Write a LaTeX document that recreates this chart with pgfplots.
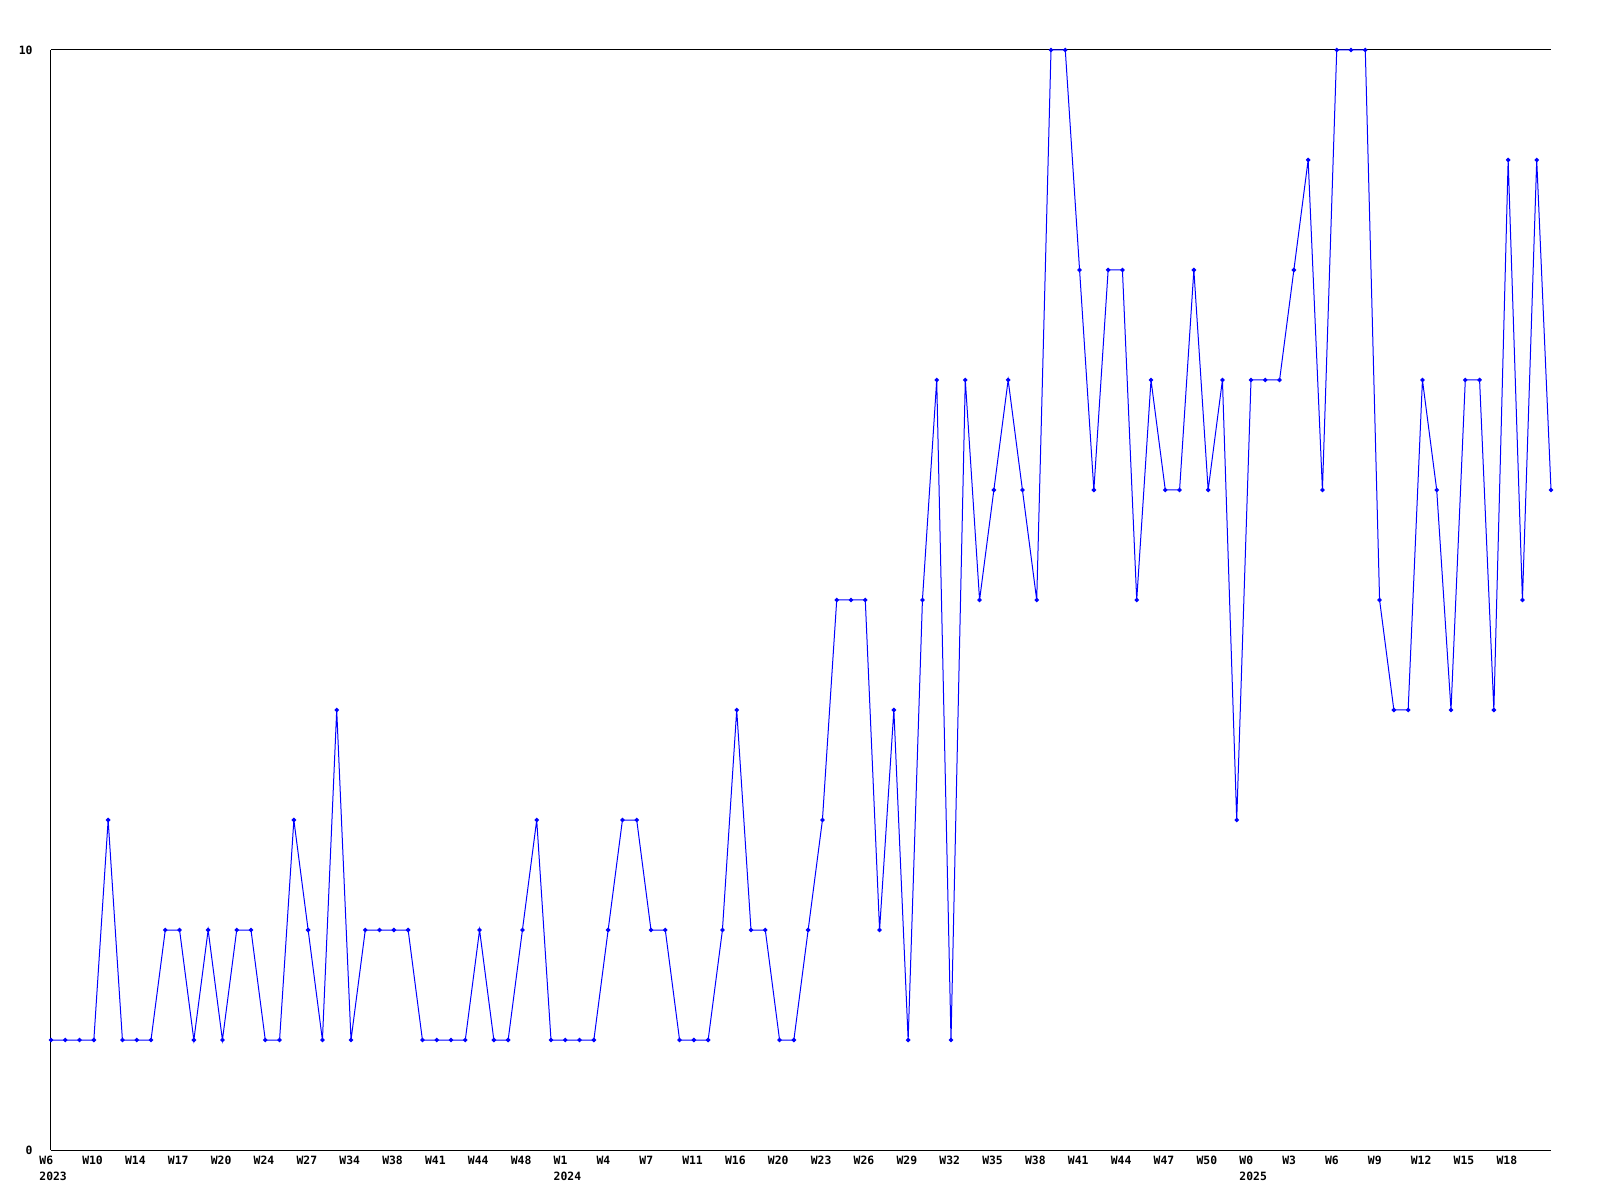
\documentclass[border=0pt]{standalone}
\usepackage{fontspec}
\setmainfont{DejaVu Sans Mono}
\usepackage{pgfplots}
\pgfplotsset{compat=1.18}
\definecolor{lineblue}{RGB}{0,0,255}
\begin{document}
\begin{tikzpicture}
\begin{axis}[
  name=ax,
  scale only axis,
  width=750pt, height=550pt,
  xmin=0, xmax=105, ymin=0, ymax=10,
  axis x line=box, axis y line=left,
  axis line style={-, black, line width=0.5pt},
  major tick length=0pt,
  xtick={0,3,...,102},
  xticklabels={{W6\\2023},W10,W14,W17,W20,W24,W27,W34,W38,W41,W44,W48,{W1\\2024},W4,W7,W11,W16,W20,W23,W26,W29,W32,W35,W38,W41,W44,W47,W50,{W0\\2025},W3,W6,W9,W12,W15,W18},
  ytick={0,10},
  yticklabels={0,10},
  /pgf/number format/assume math mode=true,
  xticklabel style={font=\fontsize{5.7}{8}\selectfont\bfseries, anchor=north west, align=left, inner sep=0pt, xshift=-6pt, yshift=-3pt},
  yticklabel style={font=\fontsize{5.7}{8}\selectfont\bfseries, anchor=east, inner sep=0pt, xshift=-9pt},
  clip=false,
]
\addplot[color=lineblue, line width=0.5pt, mark=*, mark size=0.85pt, mark options={fill=lineblue}] coordinates {
(0,1)(1,1)(2,1)(3,1)(4,3)(5,1)(6,1)(7,1)(8,2)(9,2)
(10,1)(11,2)(12,1)(13,2)(14,2)(15,1)(16,1)(17,3)(18,2)(19,1)
(20,4)(21,1)(22,2)(23,2)(24,2)(25,2)(26,1)(27,1)(28,1)(29,1)
(30,2)(31,1)(32,1)(33,2)(34,3)(35,1)(36,1)(37,1)(38,1)(39,2)
(40,3)(41,3)(42,2)(43,2)(44,1)(45,1)(46,1)(47,2)(48,4)(49,2)
(50,2)(51,1)(52,1)(53,2)(54,3)(55,5)(56,5)(57,5)(58,2)(59,4)
(60,1)(61,5)(62,7)(63,1)(64,7)(65,5)(66,6)(67,7)(68,6)(69,5)
(70,10)(71,10)(72,8)(73,6)(74,8)(75,8)(76,5)(77,7)(78,6)(79,6)
(80,8)(81,6)(82,7)(83,3)(84,7)(85,7)(86,7)(87,8)(88,9)(89,6)
(90,10)(91,10)(92,10)(93,5)(94,4)(95,4)(96,7)(97,6)(98,4)(99,7)
(100,7)(101,4)(102,9)(103,5)(104,9)(105,6)
};
\end{axis}
\pgfresetboundingbox
\path[use as bounding box] ([shift={(-25.5pt,-25pt)}]ax.south west) rectangle ([shift={(24.5pt,25pt)}]ax.north east);
\end{tikzpicture}
\end{document}
